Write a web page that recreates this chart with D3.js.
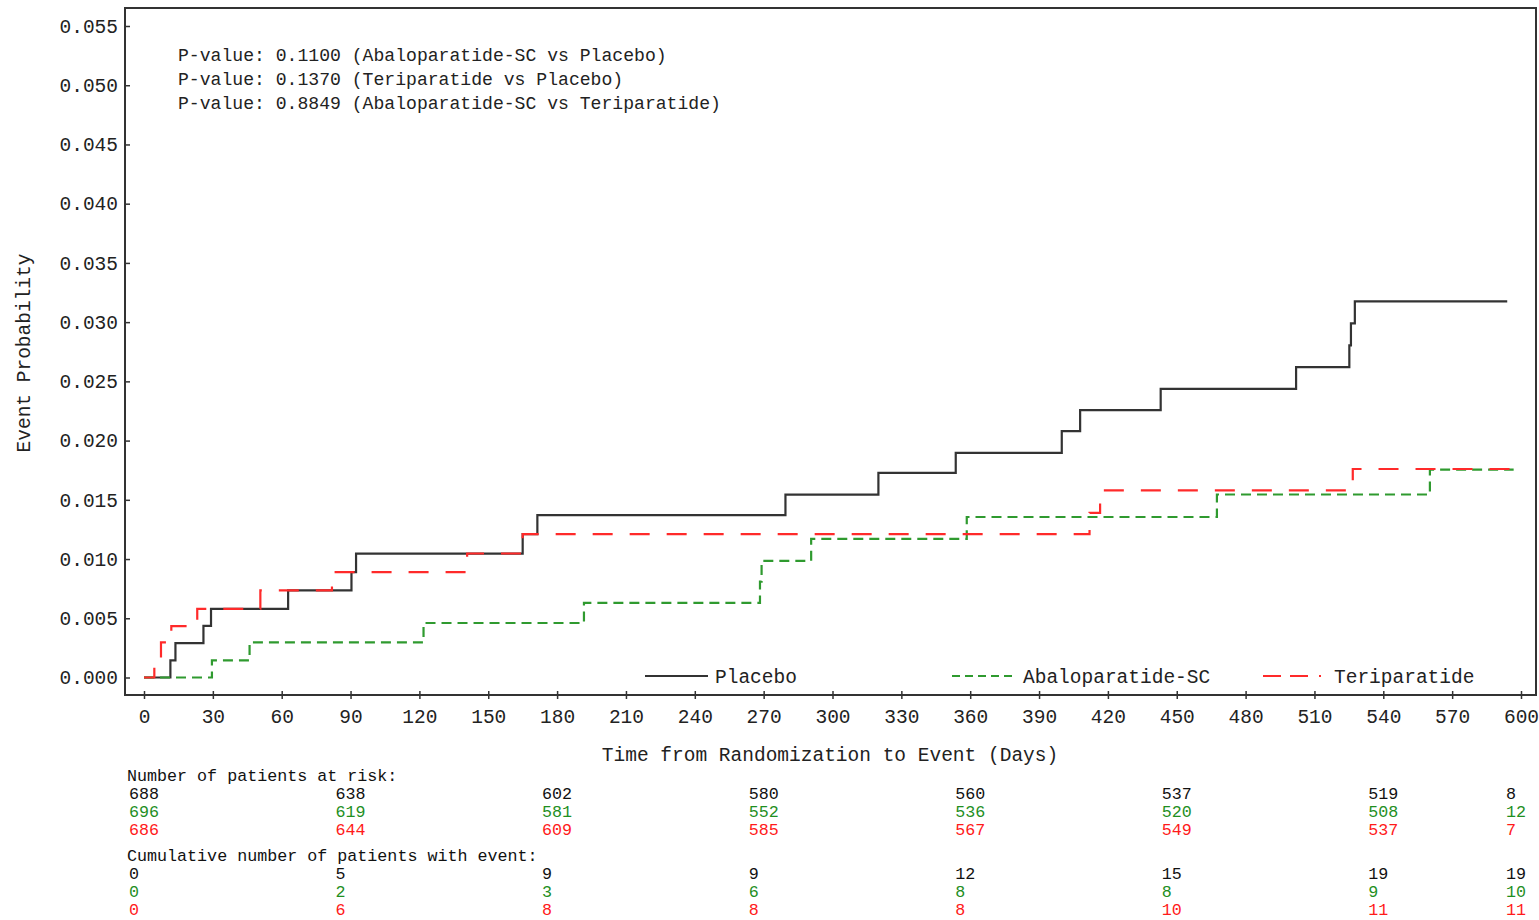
<!DOCTYPE html>
<meta charset="utf-8">
<style>
    body {
        margin: 0;
        background: white;
    }

    svg, svg text {
        font-family: "Liberation Mono", "DejaVu Sans Mono", monospace;
    }

    .frame {
        fill: none;
        stroke: #333;
        stroke-width: 2;
    }
</style>
<body>
<script src="https://cdn.jsdelivr.net/npm/d3@7"></script>
<script>
    // KM style cumulative event curves
    const placeboDays = [0, 11.5, 13.7, 25.9, 29.2, 62.8, 90.4, 92.4, 165, 171.4, 279.5, 320, 353.7, 399.9, 407.9, 443, 502, 525.2, 525.9, 527.6, 594];
    const placeboProb = [0, 0.00145, 0.0029, 0.00436, 0.0058, 0.00735, 0.0089, 0.01046, 0.0121, 0.0137, 0.01544, 0.01727, 0.01896, 0.0208, 0.02257, 0.02437, 0.0262, 0.02803, 0.0299, 0.03175, 0.03175];

    const abaloDays = [0, 29.6, 46, 121.8, 191.7, 268.4, 269.1, 290.7, 358.5, 467.5, 560.3, 596.8];
    const abaloProb = [0, 0.00144, 0.00296, 0.0046, 0.0063, 0.0081, 0.00985, 0.01171, 0.01355, 0.01545, 0.01755, 0.01755];

    const teriDays = [0, 4.5, 7.4, 11.9, 23.2, 50.7, 81.9, 140.8, 165, 412, 416.6, 526.7, 597];
    const teriProb = [0, 0.00146, 0.00296, 0.00434, 0.0058, 0.00736, 0.0089, 0.01047, 0.0121, 0.0139, 0.0158, 0.0176, 0.0176];

    const seriesNames = ["Placebo", "Abaloparatide-SC", "Teriparatide"];
    const seriesColors = ["#333333", "#2f9a2f", "#ff2a2a"];

    const xTicks = d3.range(0, 601, 30);
    const yTicks = d3.range(0, 0.0551, 0.005);

    const pValueLines = [
        "P-value: 0.1100 (Abaloparatide-SC vs Placebo)",
        "P-value: 0.1370 (Teriparatide vs Placebo)",
        "P-value: 0.8849 (Abaloparatide-SC vs Teriparatide)"
    ];

    // risk table
    const tableDays = [0, 90, 180, 270, 360, 450, 540, 600];
    const atRiskPlacebo = [688, 638, 602, 580, 560, 537, 519, 8];
    const atRiskAbalo = [696, 619, 581, 552, 536, 520, 508, 12];
    const atRiskTeri = [686, 644, 609, 585, 567, 549, 537, 7];
    const cumPlacebo = [0, 5, 9, 9, 12, 15, 19, 19];
    const cumAbalo = [0, 2, 3, 6, 8, 8, 9, 10];
    const cumTeri = [0, 6, 8, 8, 8, 10, 11, 11];

    const width = 1539, height = 920;
    const frame = {left: 125, top: 8, right: 1536, bottom: 695};
    const mono = "'Liberation Mono', 'DejaVu Sans Mono', monospace";

    const svg = d3.select("body").append("svg")
        .attr("width", width)
        .attr("height", height);

    const x = d3.scaleLinear().domain([0, 600]).range([144, 1521]);
    const y = d3.scaleLinear().domain([0, 0.055]).range([677.5, 26]);

    svg.append("rect")
        .attr("class", "frame")
        .attr("x", frame.left)
        .attr("y", frame.top)
        .attr("width", frame.right - frame.left)
        .attr("height", frame.bottom - frame.top);

    // y axis
    const yAxis = svg.append("g")
        .attr("transform", "translate(" + frame.left + ",0)")
        .call(d3.axisRight(y).tickValues(yTicks).tickSize(5).tickFormat(d3.format(".3f")))
        .attr("font-family", mono)
        .attr("font-size", 19.5);
    yAxis.select(".domain").remove();
    yAxis.selectAll(".tick line").attr("stroke", "#333").attr("stroke-width", 1.5);
    yAxis.selectAll(".tick text")
        .attr("x", -7)
        .attr("text-anchor", "end")
        .attr("fill", "#222");

    // x axis, ticks crossing the frame line
    const xAxis = svg.append("g")
        .attr("transform", "translate(0," + (frame.bottom - 4) + ")")
        .call(d3.axisBottom(x).tickValues(xTicks).tickSize(8).tickFormat(d3.format("d")))
        .attr("font-family", mono)
        .attr("font-size", 19.5);
    xAxis.select(".domain").remove();
    xAxis.selectAll(".tick line").attr("stroke", "#333").attr("stroke-width", 1.5);
    xAxis.selectAll(".tick text")
        .attr("y", 25)
        .attr("dy", "0.35em")
        .attr("fill", "#222");

    svg.append("text")
        .attr("x", 830)
        .attr("y", 754)
        .attr("dy", "0.35em")
        .attr("text-anchor", "middle")
        .style("font-size", "19.5px")
        .attr("fill", "#222")
        .text("Time from Randomization to Event (Days)");

    svg.append("text")
        .attr("transform", "translate(23,353) rotate(-90)")
        .attr("dy", "0.35em")
        .attr("text-anchor", "middle")
        .style("font-size", "19.5px")
        .attr("fill", "#222")
        .text("Event Probability");

    // p-values
    svg.append("g").selectAll("text")
        .data(pValueLines)
        .enter().append("text")
        .attr("x", 178)
        .attr("y", (d, i) => 55 + i * 24)
        .attr("dy", "0.35em")
        .style("font-size", "18.1px")
        .attr("fill", "#222")
        .text(d => d);

    // curves
    const line = d3.line()
        .x(d => x(d[0]))
        .y(d => y(d[1]))
        .curve(d3.curveStepAfter);

    const curves = [
        {days: placeboDays, prob: placeboProb, dash: null},
        {days: abaloDays, prob: abaloProb, dash: "10,6"},
        {days: teriDays, prob: teriProb, dash: "20,17"}
    ];

    svg.append("g").selectAll("path")
        .data(curves)
        .enter().append("path")
        .attr("d", d => line(d.days.map((t, i) => [t, d.prob[i]])))
        .attr("fill", "none")
        .attr("stroke", (d, i) => seriesColors[i])
        .attr("stroke-width", 2.2)
        .attr("stroke-dasharray", d => d.dash);

    // legend
    const legendX = [645, 952, 1263];
    const legendDash = [null, "8,5", "18,9,18,11,2,20"];
    const legend = svg.append("g").selectAll("g")
        .data(seriesNames)
        .enter().append("g")
        .attr("transform", (d, i) => "translate(" + legendX[i] + ",676)");

    legend.append("line")
        .attr("x1", 0)
        .attr("x2", 63)
        .attr("stroke", (d, i) => seriesColors[i])
        .attr("stroke-width", 2.2)
        .attr("stroke-dasharray", (d, i) => legendDash[i]);

    legend.append("text")
        .attr("x", (d, i) => i === 0 ? 70 : 71)
        .attr("dy", "0.35em")
        .style("font-size", "19.5px")
        .attr("fill", "#222")
        .text(d => d);

    // number at risk / cumulative events table
    const tableColors = ["#111111", "#1f8f1f", "#ff1a1a"];
    const tableBlocks = [
        {title: "Number of patients at risk:", y: 775, rows: [atRiskPlacebo, atRiskAbalo, atRiskTeri]},
        {title: "Cumulative number of patients with event:", y: 855, rows: [cumPlacebo, cumAbalo, cumTeri]}
    ];

    tableBlocks.forEach(block => {
        svg.append("text")
            .attr("x", 127)
            .attr("y", block.y)
            .attr("dy", "0.35em")
            .style("font-size", "16.7px")
            .attr("fill", "#111")
            .text(block.title);

        block.rows.forEach((row, r) => {
            svg.append("g").selectAll("text")
                .data(row)
                .enter().append("text")
                .attr("x", (d, i) => x(tableDays[i]) - 15)
                .attr("y", block.y + 18 * (r + 1))
                .attr("dy", "0.35em")
                .style("font-size", "16.7px")
                .attr("fill", tableColors[r])
                .text(d => d);
        });
    });
</script>
</body>
</html>
